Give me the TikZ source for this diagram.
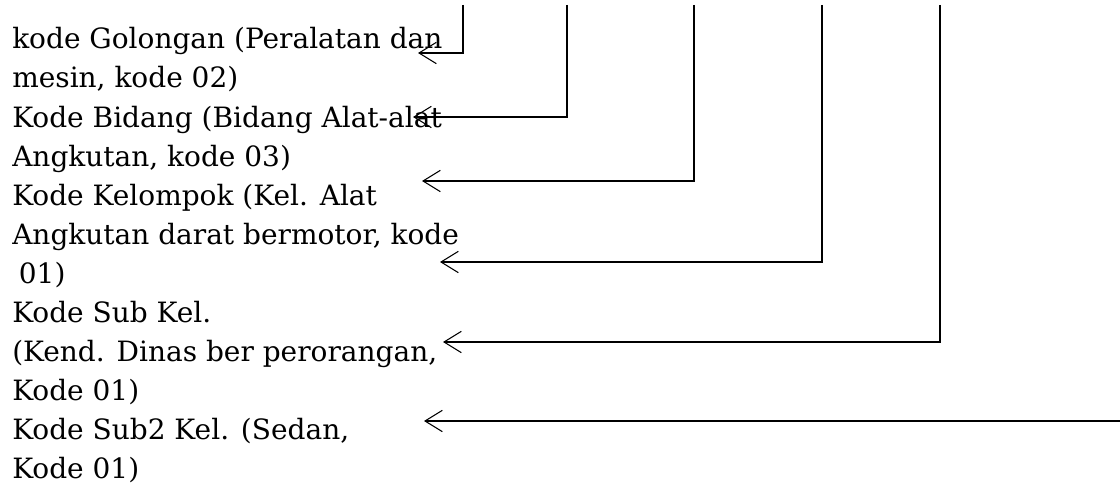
\documentclass[tikz,border=0pt]{standalone}
\usepackage{fontspec}
\setmainfont{DejaVu Serif}
\usetikzlibrary{arrows.meta,positioning}
\tikzset{
    kodelabel/.style={anchor=base west, align=left, inner sep=0pt, font=\fontsize{21}{29.25}\selectfont},
    kodearrow/.style={line width=0.8pt, -{Straight Barb[length=13pt,width=16pt]}}
}

\begin{document}
\begin{tikzpicture}[x=0.75pt,y=-0.75pt]
    \useasboundingbox (0,0) rectangle (1120,492);
    % labels (anchored at the baseline of their last line)
    \node[kodelabel] (golongan) at (12,88) {kode Golongan (Peralatan dan\\mesin, kode 02)};
    \node[kodelabel] (bidang) at (12,166) {Kode Bidang (Bidang Alat-alat\\Angkutan, kode 03)};
    \node[kodelabel] (kelompok) at (12,283) {Kode Kelompok (Kel. Alat\\Angkutan darat bermotor, kode\\\hspace{5pt}01)};
    \node[kodelabel] (subkel) at (12,400) {Kode Sub Kel.\\(Kend. Dinas ber perorangan,\\Kode 01)};
    \node[kodelabel] (subsubkel) at (12,478) {Kode Sub2 Kel. (Sedan,\\Kode 01)};
    % line ends
    \coordinate (t1) at (463,5);
    \coordinate (t2) at (567,5);
    \coordinate (t3) at (694,5);
    \coordinate (t4) at (822,5);
    \coordinate (t5) at (940,5);
    \coordinate (t6) at (1120,421);
    \coordinate (p1) at (418,53);
    \coordinate (p2) at (413,117);
    \coordinate (p3) at (422,181);
    \coordinate (p4) at (440,262);
    \coordinate (p5) at (443,342);
    \coordinate (p6) at (424,421);
    % arrows
    \draw[kodearrow] (t1) |- (p1);
    \draw[kodearrow] (t2) |- (p2);
    \draw[kodearrow] (t3) |- (p3);
    \draw[kodearrow] (t4) |- (p4);
    \draw[kodearrow] (t5) |- (p5);
    \draw[kodearrow] (t6) -- (p6);
\end{tikzpicture}
\end{document}
